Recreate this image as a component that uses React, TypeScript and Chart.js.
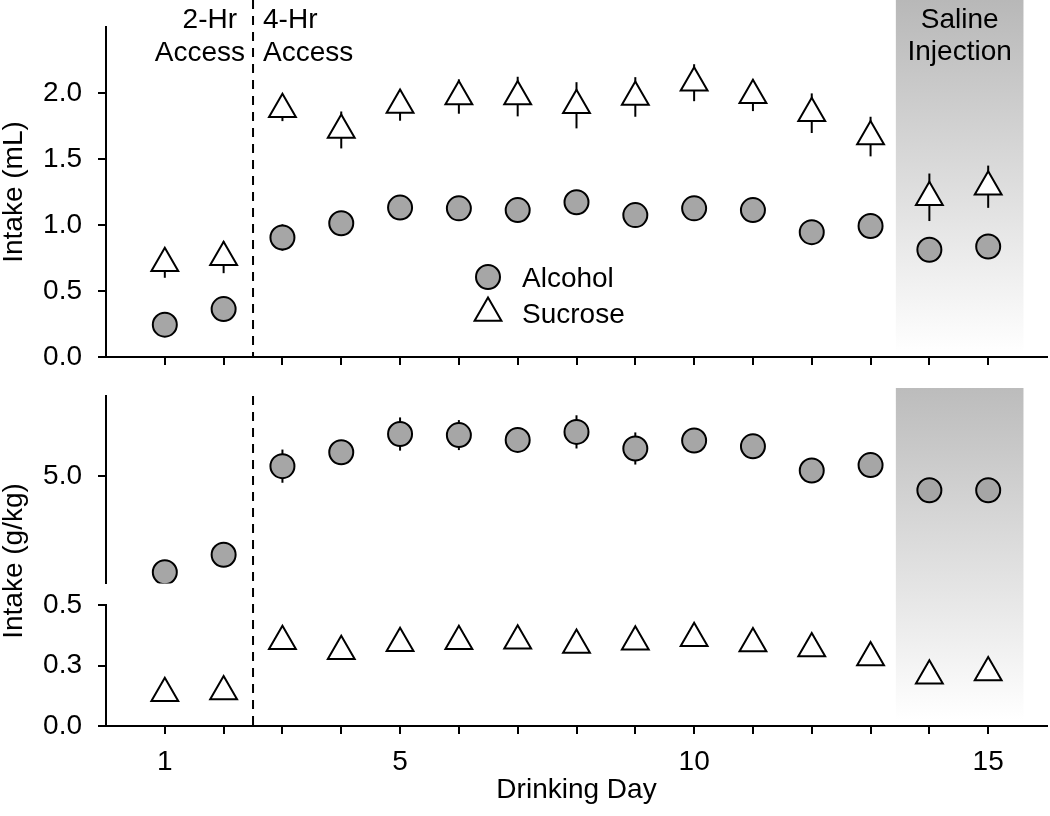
import React, { useEffect, useRef } from 'react';
import { Chart, registerables } from 'chart.js';

Chart.register(...registerables);

// ---------- data ----------
const days = [1, 2, 3, 4, 5, 6, 7, 8, 9, 10, 11, 12, 13, 14, 15];
const xTickLabels = [1, 5, 10, 15];

const alcoholML = [0.245, 0.363, 0.905, 1.013, 1.132, 1.126, 1.113, 1.172, 1.075, 1.126, 1.113, 0.946, 0.992, 0.812, 0.837];
const alcoholMLErr = [0.04, 0.05, 0.1, 0.06, 0.06, 0.06, 0.06, 0.07, 0.06, 0.06, 0.06, 0.06, 0.06, 0.06, 0.06];
const sucroseML = [0.71, 0.755, 1.877, 1.72, 1.91, 1.973, 1.973, 1.907, 1.97, 2.078, 1.983, 1.847, 1.67, 1.21, 1.29];
const sucroseMLErr = [0.11, 0.12, 0.09, 0.14, 0.12, 0.13, 0.15, 0.175, 0.15, 0.14, 0.12, 0.15, 0.15, 0.18, 0.16];

const alcoholGkg = [3.21, 3.536, 5.19, 5.45, 5.79, 5.77, 5.68, 5.83, 5.52, 5.67, 5.56, 5.11, 5.21, 4.74, 4.74];
const alcoholGkgErr = [0.1, 0.1, 0.31, 0.2, 0.31, 0.28, 0.2, 0.31, 0.3, 0.2, 0.2, 0.2, 0.15, 0.15, 0.15];
const sucroseGkg = [0.136, 0.143, 0.351, 0.31, 0.343, 0.351, 0.353, 0.336, 0.349, 0.364, 0.342, 0.321, 0.284, 0.208, 0.222];

const mlTicks = [0, 0.5, 1.0, 1.5, 2.0];
const gkgHiTicks = [5.0];
const gkgLoTicks = [0, 0.25, 0.5];
const gkgLoTickLabels = ['0.0', '0.3', '0.5'];

const accessSplitDay = 2.5;
const salineStart = 13.43;
const salineEnd = 15.6;

// ---------- styles ----------
const FONT = '"Liberation Sans", Arial, Helvetica, sans-serif';
const CIRCLE_FILL = '#a6a6a6';

const pts = (ys: number[]) => days.map((d, i) => ({ x: d, y: ys[i] }));

const circleDs = (label: string, ys: number[], axis: string) => ({
  label,
  data: pts(ys),
  yAxisID: axis,
  pointStyle: 'circle',
  pointRadius: 12,
  pointHoverRadius: 12,
  pointBackgroundColor: CIRCLE_FILL,
  pointBorderColor: '#000',
  pointBorderWidth: 2,
  showLine: false,
});
const triDs = (label: string, ys: number[], axis: string) => ({
  label,
  data: pts(ys),
  yAxisID: axis,
  pointStyle: 'triangle',
  pointRadius: 15.5,
  pointHoverRadius: 15.5,
  pointBackgroundColor: '#fff',
  pointBorderColor: '#000',
  pointBorderWidth: 2,
  showLine: false,
});

const gridCfg = { drawOnChartArea: false, drawTicks: true, tickLength: 8, color: '#000', lineWidth: 2 };
const borderCfg = { display: true, color: '#000', width: 2 };
const hidePad = (s: any) => {
  s.paddingTop = 0;
  s.paddingBottom = 0;
  s.paddingLeft = 0;
  s.paddingRight = 0;
};

function drawErr(ctx: CanvasRenderingContext2D, xs: any, ys: any, vals: number[], errs: number[]) {
  ctx.save();
  ctx.strokeStyle = '#000';
  ctx.lineWidth = 2;
  days.forEach((d, i) => {
    const x = xs.getPixelForValue(d);
    ctx.beginPath();
    ctx.moveTo(x, ys.getPixelForValue(vals[i] + errs[i]));
    ctx.lineTo(x, ys.getPixelForValue(vals[i] - errs[i]));
    ctx.stroke();
  });
  ctx.restore();
}

function drawShade(ctx: CanvasRenderingContext2D, xs: any, top: number, bottom: number, c0: string) {
  const x0 = xs.getPixelForValue(salineStart);
  const x1 = xs.getPixelForValue(salineEnd);
  const g = ctx.createLinearGradient(0, top, 0, bottom);
  g.addColorStop(0, c0);
  g.addColorStop(1, '#ffffff');
  ctx.save();
  ctx.fillStyle = g;
  ctx.fillRect(x0, top, x1 - x0, bottom - top);
  ctx.restore();
}

function drawDash(ctx: CanvasRenderingContext2D, xs: any, top: number, bottom: number) {
  const x = xs.getPixelForValue(accessSplitDay);
  ctx.save();
  ctx.strokeStyle = '#000';
  ctx.lineWidth = 2;
  ctx.setLineDash([9, 7]);
  ctx.beginPath();
  ctx.moveTo(x, top);
  ctx.lineTo(x, bottom);
  ctx.stroke();
  ctx.restore();
}

const topPlugin = {
  id: 'topDecor',
  beforeDatasetsDraw(chart: any) {
    const { ctx, chartArea, scales } = chart;
    drawShade(ctx, scales.x, 0, chartArea.bottom - 3, '#b8b8b8');
    drawDash(ctx, scales.x, 0, chartArea.bottom);
    drawErr(ctx, scales.x, scales.y, sucroseML, sucroseMLErr);
    drawErr(ctx, scales.x, scales.y, alcoholML, alcoholMLErr);
  },
  afterDraw(chart: any) {
    const { ctx, scales } = chart;
    const xs = scales.x;
    const xd = xs.getPixelForValue(accessSplitDay);
    const xc = xs.getPixelForValue((salineStart + salineEnd) / 2);
    ctx.save();
    ctx.fillStyle = '#000';
    ctx.font = `28px ${FONT}`;
    ctx.textBaseline = 'alphabetic';
    ctx.textAlign = 'right';
    ctx.fillText('2-Hr', xd - 16, 28);
    ctx.fillText('Access', xd - 8, 61);
    ctx.textAlign = 'left';
    ctx.fillText('4-Hr', xd + 10, 28);
    ctx.fillText('Access', xd + 10, 61);
    ctx.textAlign = 'center';
    ctx.fillText('Saline', xc, 28);
    ctx.fillText('Injection', xc, 60);
    // legend
    const lx = 488;
    ctx.beginPath();
    ctx.arc(lx, 277, 12, 0, Math.PI * 2);
    ctx.fillStyle = CIRCLE_FILL;
    ctx.fill();
    ctx.lineWidth = 2;
    ctx.strokeStyle = '#000';
    ctx.stroke();
    const r = 15.5;
    const ty = 313;
    ctx.beginPath();
    ctx.moveTo(lx, ty - r);
    ctx.lineTo(lx + r * Math.sin((2 * Math.PI) / 3), ty - r * Math.cos((2 * Math.PI) / 3));
    ctx.lineTo(lx + r * Math.sin((4 * Math.PI) / 3), ty - r * Math.cos((4 * Math.PI) / 3));
    ctx.closePath();
    ctx.fillStyle = '#fff';
    ctx.fill();
    ctx.stroke();
    ctx.fillStyle = '#000';
    ctx.textAlign = 'left';
    ctx.fillText('Alcohol', 522, 287);
    ctx.fillText('Sucrose', 522, 323);
    ctx.restore();
  },
};

const bottomPlugin = {
  id: 'bottomDecor',
  beforeDatasetsDraw(chart: any) {
    const { ctx, chartArea, scales } = chart;
    drawShade(ctx, scales.x, chartArea.top - 8, chartArea.bottom - 6, '#bcbcbc');
    drawDash(ctx, scales.x, chartArea.top, chartArea.bottom);
    drawErr(ctx, scales.x, scales.yHi, alcoholGkg, alcoholGkgErr);
  },
};

const xTicksFixed = (s: any) => {
  s.ticks = days.map((v) => ({ value: v }));
};

function App() {
  const refA = useRef<HTMLCanvasElement>(null);
  const refB = useRef<HTMLCanvasElement>(null);

  useEffect(() => {
    Chart.defaults.font.family = FONT;
    Chart.defaults.color = '#000';

    const chartA = new Chart(refA.current as HTMLCanvasElement, {
      type: 'scatter',
      data: {
        datasets: [circleDs('Alcohol', alcoholML, 'y') as any, triDs('Sucrose', sucroseML, 'y') as any],
      },
      options: {
        responsive: false,
        maintainAspectRatio: false,
        animation: false,
        events: [],
        layout: { autoPadding: false, padding: { top: 27, left: 0, right: 3, bottom: 0 } },
        plugins: { legend: { display: false }, tooltip: { enabled: false } },
        scales: {
          x: {
            type: 'linear',
            position: 'bottom',
            min: 0,
            max: 16,
            afterBuildTicks: xTicksFixed,
            ticks: { display: false },
            grid: gridCfg,
            border: borderCfg,
            afterFit: (s: any) => {
              s.height = 23;
              hidePad(s);
            },
          },
          y: {
            type: 'linear',
            position: 'left',
            min: 0,
            max: 2.5,
            afterBuildTicks: (s: any) => {
              s.ticks = mlTicks.map((v) => ({ value: v }));
            },
            ticks: {
              font: { size: 28 },
              color: '#000',
              padding: 16,
              callback: (v: any) => Number(v).toFixed(1),
            },
            grid: gridCfg,
            border: borderCfg,
            title: {
              display: true,
              text: 'Intake (mL)',
              font: { size: 28, lineHeight: 1 },
              color: '#000',
              padding: 0,
            },
            afterFit: (s: any) => {
              s.width = 106;
              hidePad(s);
            },
          },
        },
      } as any,
      plugins: [topPlugin],
    });

    const chartB = new Chart(refB.current as HTMLCanvasElement, {
      type: 'scatter',
      data: {
        datasets: [circleDs('Alcohol', alcoholGkg, 'yHi') as any, triDs('Sucrose', sucroseGkg, 'yLo') as any],
      },
      options: {
        responsive: false,
        maintainAspectRatio: false,
        animation: false,
        events: [],
        layout: { autoPadding: false, padding: { top: 16, left: 0, right: 3, bottom: 0 } },
        plugins: { legend: { display: false }, tooltip: { enabled: false } },
        scales: {
          x: {
            type: 'linear',
            position: 'bottom',
            min: 0,
            max: 16,
            afterBuildTicks: xTicksFixed,
            ticks: {
              font: { size: 28 },
              color: '#000',
              padding: 11,
              maxRotation: 0,
              autoSkip: false,
              callback: (v: any) => (xTickLabels.includes(Number(v)) ? String(v) : ''),
            },
            grid: gridCfg,
            border: borderCfg,
            title: {
              display: true,
              text: 'Drinking Day',
              font: { size: 28 },
              color: '#000',
              padding: { top: 0, bottom: 9 },
            },
            afterFit: (s: any) => {
              s.height = 90;
              hidePad(s);
            },
          },
          yLo: {
            type: 'linear',
            position: 'left',
            stack: 'gkg',
            stackWeight: 121,
            weight: 1,
            min: 0,
            max: 0.5,
            afterBuildTicks: (s: any) => {
              s.ticks = gkgLoTicks.map((v) => ({ value: v }));
            },
            ticks: {
              font: { size: 28 },
              color: '#000',
              padding: 16,
              callback: (v: any, i: number) => gkgLoTickLabels[i],
            },
            grid: gridCfg,
            border: borderCfg,
            afterFit: (s: any) => {
              s.width = 76;
              hidePad(s);
            },
          },
          yGap: {
            type: 'linear',
            position: 'left',
            stack: 'gkg',
            stackWeight: 22,
            weight: 2,
            min: 0,
            max: 1,
            ticks: { display: false },
            grid: { display: false },
            border: { display: false },
            afterFit: (s: any) => {
              s.width = 76;
              hidePad(s);
            },
          },
          yHi: {
            type: 'linear',
            position: 'left',
            stack: 'gkg',
            stackWeight: 188,
            weight: 3,
            min: 3.0,
            max: 6.5,
            afterBuildTicks: (s: any) => {
              s.ticks = gkgHiTicks.map((v) => ({ value: v }));
            },
            ticks: {
              font: { size: 28 },
              color: '#000',
              padding: 16,
              callback: (v: any) => Number(v).toFixed(1),
            },
            grid: gridCfg,
            border: borderCfg,
            afterFit: (s: any) => {
              s.width = 76;
              hidePad(s);
            },
          },
          yTitle: {
            type: 'linear',
            position: 'left',
            weight: 10,
            min: 0,
            max: 1,
            ticks: { display: false },
            grid: { display: false },
            border: { display: false },
            title: {
              display: true,
              text: 'Intake (g/kg)',
              font: { size: 28, lineHeight: 1 },
              color: '#000',
              padding: 0,
            },
            afterFit: (s: any) => {
              s.width = 30;
              hidePad(s);
            },
          },
        },
      } as any,
      plugins: [bottomPlugin],
    });

    return () => {
      chartA.destroy();
      chartB.destroy();
    };
  }, []);

  return (
    <div style={{ position: 'absolute', left: 0, top: 0, width: 1050, height: 816, background: '#fff' }}>
      <canvas
        ref={refA}
        width={1050}
        height={380}
        style={{ position: 'absolute', left: 0, top: 0, width: 1050, height: 380 }}
      />
      <canvas
        ref={refB}
        width={1050}
        height={436}
        style={{ position: 'absolute', left: 0, top: 380, width: 1050, height: 436 }}
      />
    </div>
  );
}

export default App;
